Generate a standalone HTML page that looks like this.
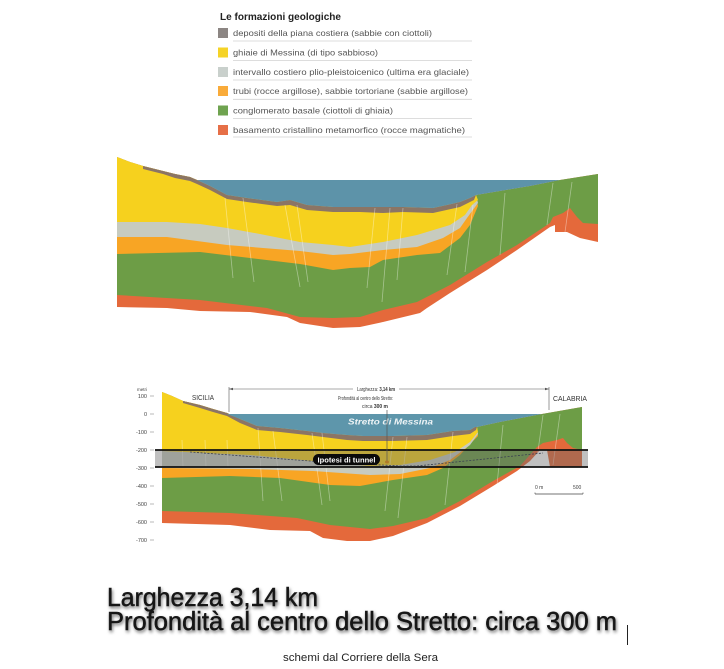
<!DOCTYPE html>
<html><head><meta charset="utf-8"><style>
html,body{margin:0;padding:0;background:#fff;}
svg{display:block;}
text{font-family:"Liberation Sans",Arial,sans-serif;}
</style></head><body>
<svg width="724" height="669" viewBox="0 0 724 669" xmlns="http://www.w3.org/2000/svg">
<defs>
<filter id="sh" x="-5%" y="-30%" width="110%" height="160%">
<feDropShadow dx="1" dy="2" stdDeviation="1.6" flood-color="#000" flood-opacity="0.55"/>
</filter>
</defs>
<rect width="724" height="669" fill="#fff"/>

<!-- Legend -->
<text x="220" y="20" font-size="10" font-weight="bold" fill="#222" textLength="121" lengthAdjust="spacingAndGlyphs">Le formazioni geologiche</text>
<g font-size="8.5" fill="#555">
<rect x="218" y="28" width="10" height="10" fill="#8c8683"/>
<text x="233" y="36" textLength="199" lengthAdjust="spacingAndGlyphs">depositi della piana costiera (sabbie con ciottoli)</text>
<rect x="218" y="47.5" width="10" height="10" fill="#f5d327"/>
<text x="233" y="55.5" textLength="145" lengthAdjust="spacingAndGlyphs">ghiaie di Messina (di tipo sabbioso)</text>
<rect x="218" y="67" width="10" height="10" fill="#c9d0cc"/>
<text x="233" y="75" textLength="236" lengthAdjust="spacingAndGlyphs">intervallo costiero plio-pleistoicenico (ultima era glaciale)</text>
<rect x="218" y="86" width="10" height="10" fill="#f9ab3a"/>
<text x="233" y="94" textLength="235" lengthAdjust="spacingAndGlyphs">trubi (rocce argillose), sabbie tortoriane (sabbie argillose)</text>
<rect x="218" y="105.5" width="10" height="10" fill="#6fa350"/>
<text x="233" y="113.5" textLength="160" lengthAdjust="spacingAndGlyphs">conglomerato basale (ciottoli di ghiaia)</text>
<rect x="218" y="125" width="10" height="10" fill="#e66f47"/>
<text x="233" y="133" textLength="232" lengthAdjust="spacingAndGlyphs">basamento cristallino metamorfico (rocce magmatiche)</text>
</g>
<g stroke="#d2d2d2" stroke-width="0.8">
<line x1="233" y1="41" x2="472" y2="41"/>
<line x1="233" y1="60.5" x2="472" y2="60.5"/>
<line x1="233" y1="80" x2="472" y2="80"/>
<line x1="233" y1="99.3" x2="472" y2="99.3"/>
<line x1="233" y1="118.5" x2="472" y2="118.5"/>
<line x1="233" y1="137" x2="472" y2="137"/>
</g>

<!-- Upper cross-section -->
<g>
<polygon fill="#e4693b" points="117,157 130,162 143,166 163,171 175,174 190,177 197,180 210,186 227,195 247,198 262,200 277,202 290,200 307,205 333,207 360,207 383,207 403,207 433,208 447,205 460,202 470,198 476,195 500,191 530,186 560,180 598,174 598,242 580,238 567,232 555,232 555,225 550,227 517,250 487,270 450,293 427,308 420,313 383,322 360,327 333,328 300,323 287,317 250,312 200,311 167,308 117,307"/>
<polygon fill="#6d9d46" points="117,157 130,162 143,166 163,171 175,174 190,177 197,180 210,186 227,195 247,198 262,200 277,202 290,200 307,205 333,207 360,207 383,207 403,207 433,208 447,205 460,202 470,198 476,195 500,191 530,186 560,180 598,174 598,224 583,223 577,217 570,208 563,213 553,217 550,223 517,245 487,262 450,285 417,302 383,310 360,317 333,318 300,317 267,308 200,300 117,295"/>
<polygon fill="#f8a524" points="117,157 130,162 143,166 163,171 175,174 190,177 197,180 210,186 227,195 247,198 262,200 277,202 290,200 307,205 333,207 360,207 383,207 403,207 433,208 447,205 460,202 470,198 476,195 478,206 470,225 460,238 440,253 417,255 383,260 370,267 350,268 333,270 300,264 250,258 200,252 117,254"/>
<polygon fill="#c7cbbf" points="117,157 130,162 143,166 163,171 175,174 190,177 197,180 210,186 227,195 247,198 262,200 277,202 290,200 307,205 333,207 360,207 383,207 403,207 433,208 447,205 460,202 470,198 476,195 478,203 467,218 460,228 443,238 417,247 383,250 350,254 333,255 300,251 227,245 167,237 117,237"/>
<polygon fill="#f6d11e" points="117,157 130,162 143,166 163,171 175,174 190,177 197,180 210,186 227,195 247,198 262,200 277,202 290,200 307,205 333,207 360,207 383,207 403,207 433,208 447,205 460,202 470,198 476,195 478,200 472,205 465,215 450,225 417,235 383,242 350,247 333,245 300,242 260,234 227,228 200,224 167,222 117,222"/>
<polygon fill="#8b7565" points="143,166 163,171 175,174 190,177 197,180 210,186 227,195 247,198 262,200 277,202 290,200 307,205 333,207 360,207 383,207 403,207 433,208 447,205 460,202 470,198 476,195 474,200 460,207 433,213 403,212 383,213 360,212 333,212 307,210 290,205 277,206 262,204 247,202 227,199 210,190 197,184 190,181 175,178 163,174 143,169"/>
<polygon fill="#5d93a9" points="197,180 560,180 530,186 500,191 476,195 470,198 460,202 447,205 433,208 403,207 383,207 360,207 333,207 307,205 290,200 277,202 262,200 247,198 227,195 210,186"/>
<g stroke="#ffffff" stroke-opacity="0.4" stroke-width="0.8">
<line x1="225" y1="198" x2="233" y2="278"/>
<line x1="243" y1="198" x2="254" y2="282"/>
<line x1="285" y1="205" x2="300" y2="287"/>
<line x1="297" y1="205" x2="308" y2="282"/>
<line x1="375" y1="208" x2="367" y2="288"/>
<line x1="390" y1="208" x2="382" y2="302"/>
<line x1="403" y1="208" x2="397" y2="280"/>
<line x1="457" y1="204" x2="447" y2="275"/>
<line x1="473" y1="205" x2="465" y2="272"/>
<line x1="505" y1="193" x2="500" y2="255"/>
<line x1="553" y1="183" x2="547" y2="225"/>
<line x1="572" y1="182" x2="565" y2="232"/>
</g>
</g>

<!-- Lower cross-section -->
<g>
<polygon fill="#e4693b" points="162,392 172,396 183,401 200,405 213,409 227,413 240,419 257,426 280,428 307,431 323,433 347,435 363,436 393,436 427,435 453,431 470,430 475,427 477,427 500,422 542,414 582,407 582,467 550,467 547,450 540,450 530,461 517,471 493,486 460,506 427,523 393,536 370,541 347,541 323,538 310,531 270,530 230,525 162,523"/>
<polygon fill="#6d9d46" points="162,392 172,396 183,401 200,405 213,409 227,413 240,419 257,426 280,428 307,431 323,433 347,435 363,436 393,436 427,435 453,431 470,430 475,427 477,427 500,422 542,414 582,407 582,450 573,448 567,443 563,438 557,440 543,443 537,447 520,466 493,481 460,501 427,518 393,526 370,529 330,525 297,518 230,513 162,511"/>
<polygon fill="#f8a524" points="162,392 172,396 183,401 200,405 213,409 227,413 240,419 257,426 280,428 307,431 323,433 347,435 363,436 393,436 427,435 453,431 470,430 475,427 477,427 478,436 472,442 460,455 443,468 427,475 393,480 360,486 330,485 280,478 230,476 162,478"/>
<polygon fill="#c7cbbf" points="162,392 172,396 183,401 200,405 213,409 227,413 240,419 257,426 280,428 307,431 323,433 347,435 363,436 393,436 427,435 453,431 470,430 475,427 477,427 478,434 470,445 450,460 430,468 400,474 370,475 313,471 250,469 162,468"/>
<polygon fill="#f6d11e" points="162,392 172,396 183,401 200,405 213,409 227,413 240,419 257,426 280,428 307,431 323,433 347,435 363,436 393,436 427,435 453,431 470,430 475,427 477,427 478,432 470,442 455,452 430,460 400,465 370,466 313,461 250,455 162,451"/>
<polygon fill="#8b7565" points="183,401 200,405 213,409 227,413 240,419 257,426 280,428 307,431 323,433 347,435 363,436 393,436 427,435 453,431 470,430 475,427 477,427 476,430 470,434 453,436 427,440 393,441 363,441 347,440 307,435 280,432 257,430 240,423 227,416 213,412 200,408 183,403"/>
<polygon fill="#5e96ab" points="227,414 542,414 500,422 477,427 475,427 470,430 453,431 427,435 393,436 363,436 347,435 323,433 307,431 280,428 257,426 240,419"/>
<g stroke="#ffffff" stroke-opacity="0.4" stroke-width="0.8">
<line x1="258" y1="428" x2="263" y2="501"/>
<line x1="273" y1="431" x2="282" y2="501"/>
<line x1="312" y1="433" x2="322" y2="505"/>
<line x1="322" y1="433" x2="330" y2="501"/>
<line x1="393" y1="437" x2="385" y2="511"/>
<line x1="407" y1="437" x2="398" y2="518"/>
<line x1="453" y1="432" x2="445" y2="505"/>
<line x1="503" y1="425" x2="497" y2="485"/>
<line x1="543" y1="415" x2="537" y2="458"/>
<line x1="560" y1="414" x2="553" y2="465"/>
<line x1="182" y1="440" x2="183" y2="467"/>
<line x1="205" y1="440" x2="206" y2="467"/>
<line x1="227" y1="440" x2="228" y2="467"/>
</g>
<text x="348" y="424.5" font-size="8" font-weight="bold" font-style="italic" fill="#eef4f6" textLength="85" lengthAdjust="spacingAndGlyphs">Stretto di Messina</text>

<!-- tunnel band -->
<rect x="155" y="450" width="433" height="17" fill="#6a6a6a" fill-opacity="0.42"/>
<line x1="155" y1="450" x2="588" y2="450" stroke="#111" stroke-width="1.8"/>
<line x1="155" y1="467" x2="588" y2="467" stroke="#111" stroke-width="1.8"/>
<polyline points="190,452 310,461 400,466 417,466 543,453" fill="none" stroke="#3a4052" stroke-width="0.8" stroke-dasharray="2,1.5"/>
<line x1="387" y1="410" x2="387" y2="461" stroke="#555" stroke-width="0.7"/>
<ellipse cx="387" cy="462" rx="2" ry="1.5" fill="#b07a2a"/>
<rect x="313" y="454" width="67" height="11" rx="5.5" fill="#0a0a0a"/>
<text x="346.5" y="462.3" font-size="7" font-weight="bold" fill="#fff" text-anchor="middle" textLength="58" lengthAdjust="spacingAndGlyphs">Ipotesi di tunnel</text>

<!-- axis -->
<g font-size="5.5" fill="#444" text-anchor="end">
<text x="147" y="391" font-size="4.5">metri</text>
<text x="147" y="398">100</text>
<text x="147" y="416">0</text>
<text x="147" y="434">-100</text>
<text x="147" y="452">-200</text>
<text x="147" y="470">-300</text>
<text x="147" y="488">-400</text>
<text x="147" y="506">-500</text>
<text x="147" y="524">-600</text>
<text x="147" y="542">-700</text>
</g>
<g stroke="#888" stroke-width="0.6">
<line x1="150" y1="396" x2="154" y2="396"/>
<line x1="150" y1="414" x2="154" y2="414"/>
<line x1="150" y1="432" x2="154" y2="432"/>
<line x1="150" y1="450" x2="154" y2="450"/>
<line x1="150" y1="468" x2="154" y2="468"/>
<line x1="150" y1="486" x2="154" y2="486"/>
<line x1="150" y1="504" x2="154" y2="504"/>
<line x1="150" y1="522" x2="154" y2="522"/>
<line x1="150" y1="540" x2="154" y2="540"/>
</g>

<!-- labels -->
<text x="192" y="400" font-size="7" fill="#333" textLength="22" lengthAdjust="spacingAndGlyphs">SICILIA</text>
<text x="553" y="401" font-size="7" fill="#333" textLength="34" lengthAdjust="spacingAndGlyphs">CALABRIA</text>
<g stroke="#555" stroke-width="0.6">
<line x1="229" y1="389" x2="353" y2="389"/>
<line x1="399" y1="389" x2="549" y2="389"/>
<line x1="229" y1="387" x2="229" y2="412"/>
<line x1="549" y1="387" x2="549" y2="410"/>
</g>
<polygon points="229,389 233,387.8 233,390.2" fill="#555"/>
<polygon points="549,389 545,387.8 545,390.2" fill="#555"/>
<text x="357" y="391" font-size="5.8" fill="#333" textLength="38" lengthAdjust="spacingAndGlyphs">Larghezza: <tspan font-weight="bold">3,14 km</tspan></text>
<text x="365.5" y="400" font-size="5.5" fill="#333" text-anchor="middle" textLength="55" lengthAdjust="spacingAndGlyphs">Profondità al centro dello Stretto:</text>
<text x="375" y="408" font-size="5.5" fill="#333" text-anchor="middle" textLength="26" lengthAdjust="spacingAndGlyphs">circa <tspan font-weight="bold">300 m</tspan></text>

<!-- scale bar -->
<text x="535" y="489" font-size="5" fill="#444">0 m</text>
<text x="573" y="489" font-size="5" fill="#444">500</text>
<line x1="535" y1="494" x2="583" y2="494" stroke="#444" stroke-width="0.8"/>
<line x1="535" y1="492.5" x2="535" y2="494" stroke="#444" stroke-width="0.6"/>
<line x1="583" y1="492.5" x2="583" y2="494" stroke="#444" stroke-width="0.6"/>
</g>

<!-- bottom text -->
<g filter="url(#sh)" fill="#151515" stroke="#151515" stroke-width="0.5" font-size="26">
<text x="107" y="606" textLength="211" lengthAdjust="spacingAndGlyphs">Larghezza 3,14 km</text>
<text x="107" y="630" textLength="510" lengthAdjust="spacingAndGlyphs">Profondità al centro dello Stretto: circa 300 m</text>
</g>
<line x1="627.5" y1="625" x2="627.5" y2="645" stroke="#222" stroke-width="1"/>
<text x="283" y="661" font-size="11" fill="#222" textLength="155" lengthAdjust="spacingAndGlyphs">schemi dal Corriere della Sera</text>
</svg>
</body></html>
